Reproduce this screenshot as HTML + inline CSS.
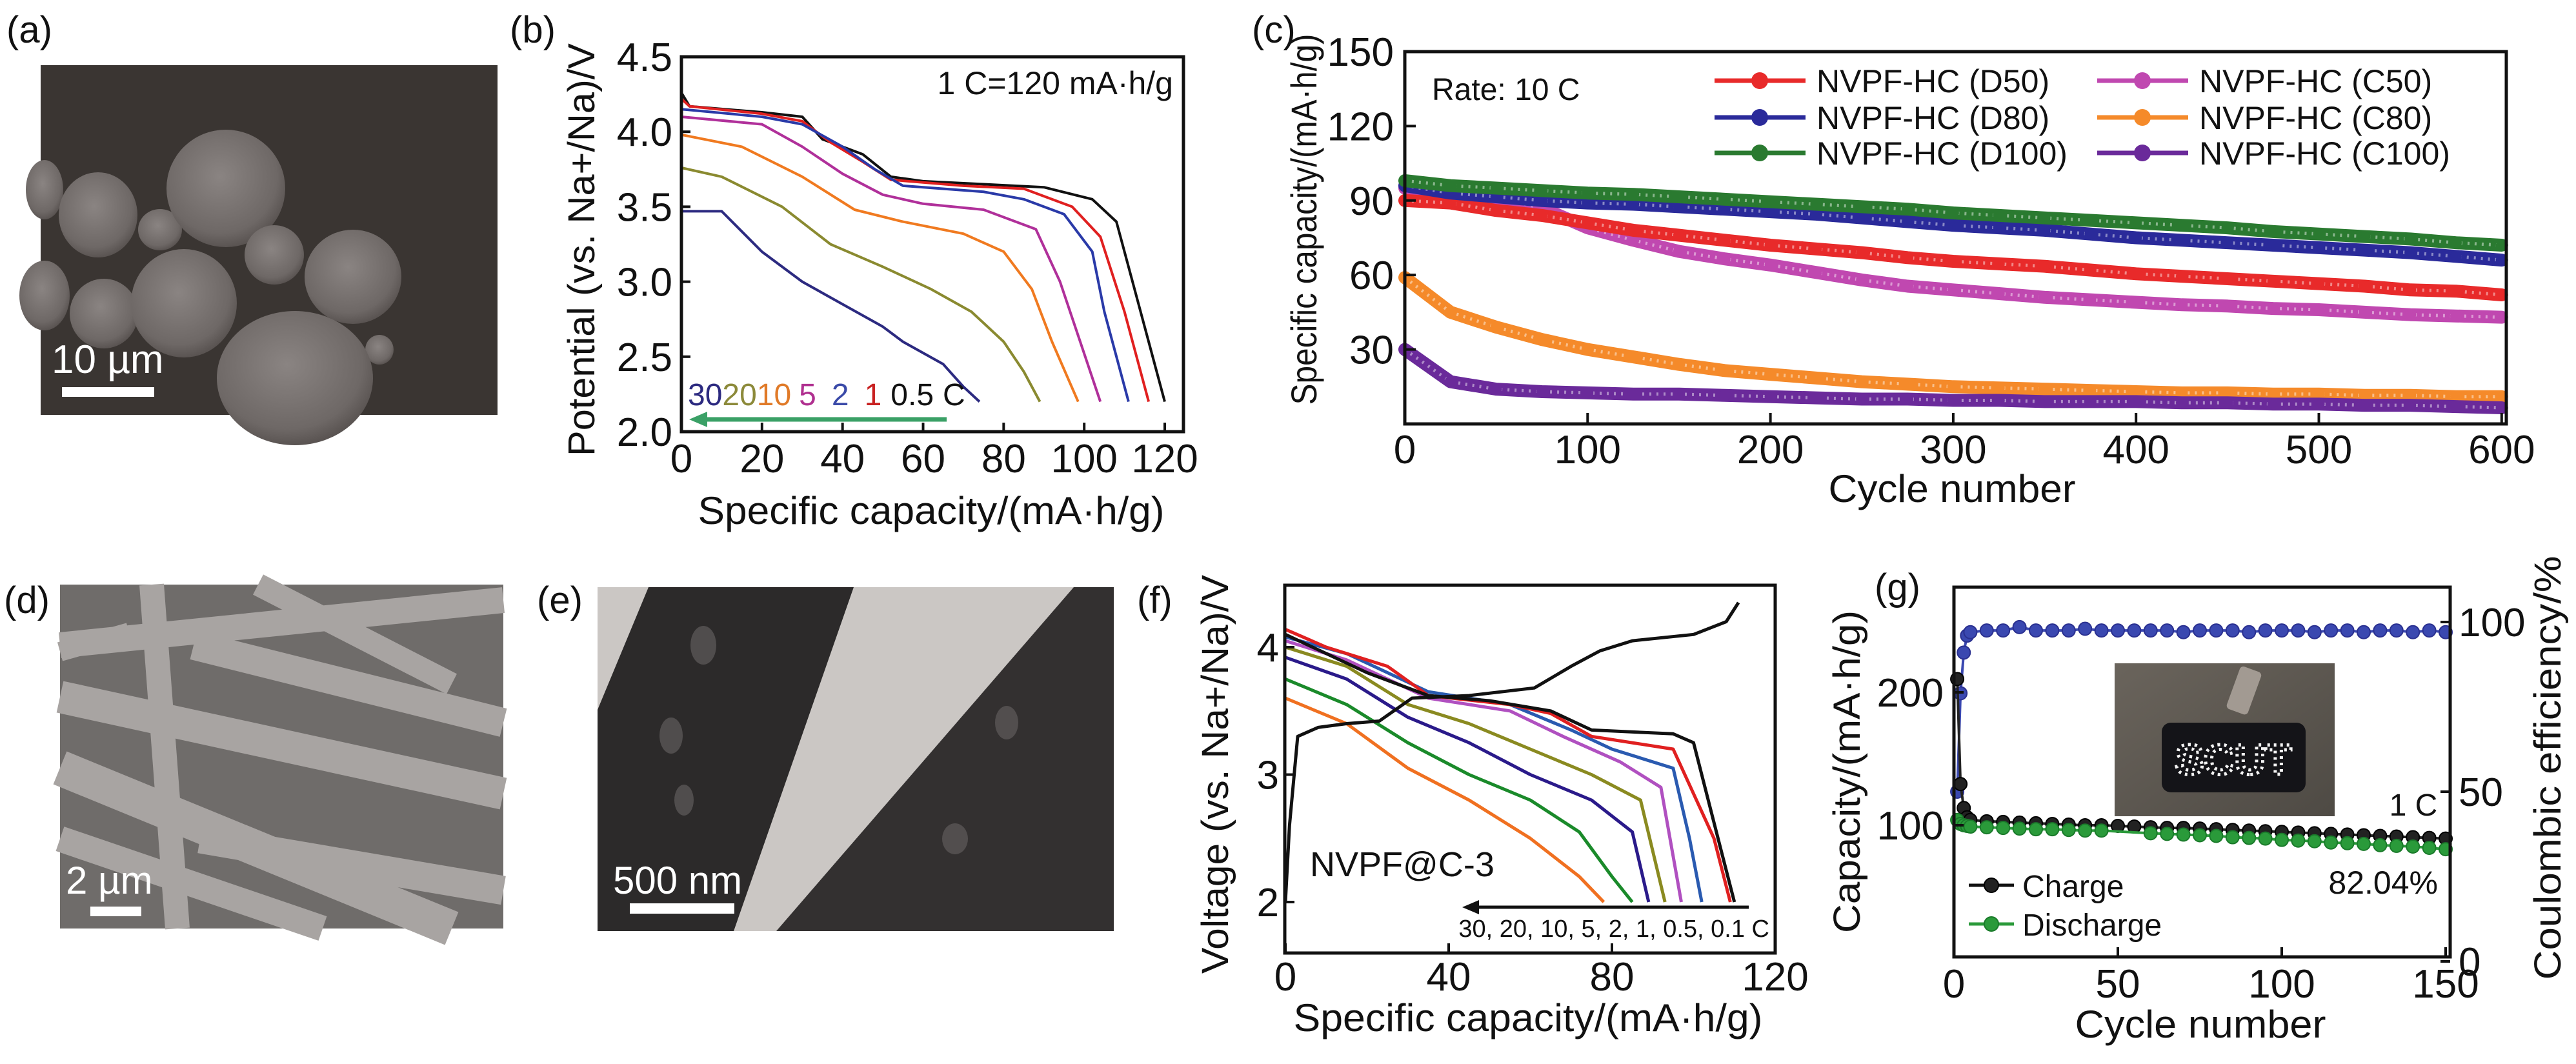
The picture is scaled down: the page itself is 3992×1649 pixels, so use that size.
<!DOCTYPE html>
<html><head><meta charset="utf-8"><style>
html,body{margin:0;padding:0;background:#fff}
svg{display:block}
text{font-family:"Liberation Sans",Arial,sans-serif;fill:#111}
</style></head><body>
<svg id="fig" width="3992" height="1649" viewBox="0 0 3992 1649" xmlns="http://www.w3.org/2000/svg">
<defs>
<radialGradient id="sph" cx="45%" cy="40%" r="60%"><stop offset="0" stop-color="#8a8482"/><stop offset="0.8" stop-color="#6e6866"/><stop offset="1" stop-color="#5a5452"/></radialGradient>
<linearGradient id="photo" x1="0" y1="0" x2="1" y2="1"><stop offset="0" stop-color="#6a645c"/><stop offset="1" stop-color="#4e4a44"/></linearGradient>
</defs>
<rect width="3992" height="1649" fill="#fff"/>

<!-- Panel a -->
<g>
<text x="10" y="66" font-size="58">(a)</text>
<rect x="63" y="101" width="708" height="542" fill="#3a3532"/>
<g fill="url(#sph)">
<ellipse cx="69" cy="294" rx="29" ry="46"/><ellipse cx="69" cy="458" rx="39" ry="54"/>
<ellipse cx="152" cy="333" rx="61" ry="66"/><ellipse cx="248" cy="356" rx="34" ry="32"/>
<ellipse cx="350" cy="292" rx="92" ry="91"/><ellipse cx="425" cy="395" rx="46" ry="46"/>
<ellipse cx="547" cy="429" rx="75" ry="73"/><ellipse cx="161" cy="486" rx="53" ry="54"/>
<ellipse cx="285" cy="470" rx="82" ry="84"/><ellipse cx="588" cy="542" rx="22" ry="23"/>
<ellipse cx="457" cy="586" rx="121" ry="104"/>
</g>
<text x="80" y="578" font-size="62" style="fill:#fff">10 µm</text>
<rect x="96" y="600" width="143" height="15" fill="#fff"/>
</g>

<!-- Panel d -->
<g>
<text x="6" y="950" font-size="58">(d)</text>
<rect x="93" y="906" width="687" height="533" fill="#6f6c6a"/>
<g stroke="#a8a4a2" stroke-linecap="butt" fill="none">
<line x1="93" y1="1000" x2="780" y2="930" stroke-width="40"/>
<line x1="93" y1="1080" x2="780" y2="1230" stroke-width="50"/>
<line x1="300" y1="1000" x2="780" y2="1120" stroke-width="45"/>
<line x1="93" y1="1190" x2="700" y2="1439" stroke-width="55"/>
<line x1="93" y1="1300" x2="500" y2="1439" stroke-width="40"/>
<line x1="310" y1="1300" x2="780" y2="1380" stroke-width="45"/>
<line x1="235" y1="906" x2="275" y2="1439" stroke-width="38"/>
<line x1="93" y1="1010" x2="200" y2="980" stroke-width="30"/>
<line x1="400" y1="906" x2="700" y2="1060" stroke-width="35"/>
</g>
<text x="102" y="1385" font-size="60" style="fill:#fff">2 µm</text>
<rect x="140" y="1405" width="79" height="15" fill="#fff"/>
</g>

<!-- Panel e -->
<g>
<text x="832" y="950" font-size="58">(e)</text>
<rect x="926" y="910" width="800" height="533" fill="#cbc7c4"/>
<polygon points="1005,910 1323,910 1137,1443 926,1443 926,1100" fill="#2c2a2a"/>
<polygon points="1664,910 1726,910 1726,1443 1203,1443" fill="#333030"/>
<g fill="#5a5656" opacity="0.8"><ellipse cx="1090" cy="1000" rx="20" ry="30"/><ellipse cx="1040" cy="1140" rx="18" ry="28"/><ellipse cx="1060" cy="1240" rx="15" ry="24"/><ellipse cx="1560" cy="1120" rx="18" ry="26"/><ellipse cx="1480" cy="1300" rx="20" ry="24"/></g>
<text x="950" y="1385" font-size="60" style="fill:#fff">500 nm</text>
<rect x="976" y="1400" width="162" height="16" fill="#fff"/>
</g>

<!-- Panel b static -->
<g>
<text x="790" y="66" font-size="58">(b)</text>
<g id="bplot"></g>
<rect x="1056" y="88" width="778" height="581" fill="none" stroke="#111" stroke-width="5"/>
<g id="baxes" font-size="62"></g>
<text x="1818" y="146" font-size="50" text-anchor="end">1 C=120 mA·h/g</text>
<text x="1066" y="628" font-size="48"><tspan style="fill:#2c2a80">30</tspan><tspan style="fill:#8c8a3a">20</tspan><tspan style="fill:#e07a28">10</tspan><tspan style="fill:#b03090" dx="12">5</tspan><tspan style="fill:#3a4aa8" dx="24">2</tspan><tspan style="fill:#c82020" dx="24">1</tspan><tspan dx="14">0.5</tspan><tspan dx="14">C</tspan></text>
<line x1="1467" y1="650" x2="1090" y2="650" stroke="#3aa066" stroke-width="7"/>
<polygon points="1068,650 1096,638 1096,662" fill="#3aa066"/>
<text transform="translate(921,387) rotate(-90)" font-size="58" text-anchor="middle" textLength="640" lengthAdjust="spacingAndGlyphs">Potential (vs. Na+/Na)/V</text>
<text x="1443" y="812" font-size="60" text-anchor="middle" textLength="723" lengthAdjust="spacingAndGlyphs">Specific capacity/(mA·h/g)</text>
</g>

<!-- Panel c static -->
<g>
<text x="1940" y="66" font-size="58">(c)</text>
<g id="cplot"></g>
<rect x="2177" y="80" width="1707" height="577" fill="none" stroke="#111" stroke-width="5"/>
<g id="caxes" font-size="62"></g>
<text x="2219" y="155" font-size="48">Rate: 10 C</text>
<g id="clegend" font-size="50"></g>
<text transform="translate(2040,340) rotate(-90)" font-size="56" text-anchor="middle" textLength="575" lengthAdjust="spacingAndGlyphs">Specific capacity/(mA·h/g)</text>
<text x="3025" y="778" font-size="60" text-anchor="middle" textLength="383" lengthAdjust="spacingAndGlyphs">Cycle number</text>
</g>

<!-- Panel f static -->
<g>
<text x="1762" y="950" font-size="58">(f)</text>
<g id="fplot"></g>
<rect x="1991" y="907" width="760" height="570" fill="none" stroke="#111" stroke-width="5"/>
<g id="faxes" font-size="62"></g>
<text x="2030" y="1358" font-size="54">NVPF@C-3</text>
<line x1="2710" y1="1406" x2="2290" y2="1406" stroke="#111" stroke-width="5"/>
<polygon points="2266,1406 2292,1395 2292,1417" fill="#111"/>
<text x="2742" y="1452" font-size="38" text-anchor="end">30, 20, 10, 5, 2, 1, 0.5, 0.1 C</text>
<text transform="translate(1903,1200) rotate(-90)" font-size="58" text-anchor="middle" textLength="618" lengthAdjust="spacingAndGlyphs">Voltage (vs. Na+/Na)/V</text>
<text x="2368" y="1598" font-size="60" text-anchor="middle" textLength="727" lengthAdjust="spacingAndGlyphs">Specific capacity/(mA·h/g)</text>
</g>

<!-- Panel g static -->
<g>
<text x="2905" y="930" font-size="58">(g)</text>
<g>
<rect x="3277" y="1028" width="341" height="237" fill="url(#photo)"/>
<rect x="3350" y="1120" width="223" height="108" rx="14" fill="#141418"/>
<rect x="3460" y="1035" width="35" height="70" rx="6" fill="#a29a92" transform="rotate(20 3477 1070)"/>
<text x="3461" y="1200" font-size="66" text-anchor="middle" font-weight="bold" style="fill:none;stroke:#f4f4f4;stroke-width:5;stroke-dasharray:4 6">SCUT</text>
</g>
<g id="gplot"></g>
<rect x="3028" y="910" width="769" height="573" fill="none" stroke="#111" stroke-width="5"/>
<g id="gaxes" font-size="62"></g>
<text x="3740" y="1264" font-size="48" text-anchor="middle">1 C</text>
<text x="3778" y="1385" font-size="50" text-anchor="end">82.04%</text>
<g>
<line x1="3051" y1="1372" x2="3121" y2="1372" stroke="#111" stroke-width="5"/><circle cx="3086" cy="1372" r="11" fill="#222" stroke="#000" stroke-width="2"/>
<text x="3134" y="1390" font-size="48">Charge</text>
<line x1="3051" y1="1432" x2="3121" y2="1432" stroke="#2a9a3a" stroke-width="5"/><circle cx="3086" cy="1432" r="11" fill="#2a9a3a" stroke="#1a7a2a" stroke-width="2"/>
<text x="3134" y="1450" font-size="48">Discharge</text>
</g>
<text transform="translate(2882,1196) rotate(-90)" font-size="58" text-anchor="middle" textLength="500" lengthAdjust="spacingAndGlyphs">Capacity/(mA·h/g)</text>
<text transform="translate(3968,1190) rotate(-90)" font-size="58" text-anchor="middle" textLength="657" lengthAdjust="spacingAndGlyphs">Coulombic efficiency/%</text>
<text x="3410" y="1608" font-size="60" text-anchor="middle" textLength="389" lengthAdjust="spacingAndGlyphs">Cycle number</text>
</g>
</svg>
<script>
// ---------- Panel b data ----------
const bSeriesNames = ['0.5C','1C','2C','5C','10C','20C','30C'];
const bColors = ['#111111','#e02020','#2a3aa8','#b0309a','#f07a20','#8a8a30','#2c2a80'];
const bCap = [
 [0,2,20,30,35,45,52,60,75,90,102,108,112,117,120],
 [0,2,20,30,37,45,52,70,85,97,104,110,116],
 [0,20,30,40,48,55,75,85,95,102,105,111],
 [0,20,30,40,50,60,75,88,94,99,104],
 [0,15,30,43,55,70,80,87,92,98.5],
 [0,10,25,37,50,62,72,80,85,89],
 [0,10,20,30,40,50,55,65,70,74]
];
const bVolt = [
 [4.26,4.17,4.13,4.1,3.95,3.85,3.7,3.67,3.65,3.63,3.55,3.4,3.0,2.5,2.2],
 [4.22,4.17,4.12,4.07,3.93,3.8,3.68,3.64,3.62,3.5,3.3,2.8,2.2],
 [4.15,4.1,4.05,3.9,3.75,3.64,3.6,3.55,3.45,3.2,2.8,2.2],
 [4.1,4.05,3.9,3.72,3.58,3.52,3.48,3.35,3.0,2.6,2.2],
 [3.98,3.9,3.7,3.48,3.4,3.32,3.2,2.95,2.6,2.2],
 [3.76,3.7,3.5,3.25,3.1,2.95,2.8,2.6,2.4,2.2],
 [3.47,3.47,3.2,3.0,2.85,2.7,2.6,2.45,2.3,2.2]
];
const bXTicks = [0,20,40,60,80,100,120];
const bYTicks = [2.0,2.5,3.0,3.5,4.0,4.5];

// ---------- Panel c data ----------
const cCycles = [0,25,50,75,100,125,150,175,200,225,250,275,300,325,350,375,400,425,450,475,500,525,550,575,600];
const cNames = ['NVPF-HC (D50)','NVPF-HC (D80)','NVPF-HC (D100)','NVPF-HC (C50)','NVPF-HC (C80)','NVPF-HC (C100)'];
const cColors = ['#e82a2a','#2a2a9a','#2a7a30','#c048b0','#f58a2a','#6a2a9a'];
const cD50 = [90,89,86,84,81,78,76,74,72,70.5,69,67,65.5,64.5,63.5,62,60.5,59.5,58.5,57.5,56.5,55.5,54,53.5,52];
const cD80 = [96,93,91.5,90,89,88.5,87.5,86.5,85.5,84.5,83,81.5,80,79,78,76.5,75,74,73,72,71,70,69,67.5,66];
const cD100 = [98,96,95,94,93,92.5,91.5,90.5,89.5,88.5,87.5,86.5,85,84,83,82,81,80,79,77.5,76.5,75.5,74.5,73,72];
const cC50 = [95,93.5,91,87,79,74,69.5,66.5,64,61,58,55.5,54,52.5,51,50,49,48,47.5,46.5,46,45,44,43.5,43];
const cC80 = [59,45,39,34,30,27,24,21.5,20,18.5,17,16,15,14.5,14,13.5,13,12.5,12.5,12,12,11.5,11.5,11,11];
const cC100 = [30,17,14,13,12.5,12,12,11.5,11,10.5,10,10,9.5,9.5,9,9,9,8.5,8.5,8,8,7.5,7.5,7,6.5];
const cXTicks = [0,100,200,300,400,500,600];
const cYTicks = [30,60,90,120,150];

// ---------- Panel f data ----------
const fColors = ['#111111','#e02020','#2a5ab0','#b050c0','#8a8a20','#2a1a8a','#1a8a2a','#f07020'];
const fDisCap = [
 [0,10,20,35,50,65,75,95,100,106,110],
 [0,10,25,35,55,65,75,95,105,109],
 [0,15,35,55,70,80,95,99,102],
 [0,15,35,55,68,82,92,97],
 [0,15,30,45,60,75,87,93],
 [0,15,30,45,60,75,85,89],
 [0,15,30,45,60,72,80,85],
 [0,15,30,45,60,72,78]
];
const fDisVolt = [
 [4.1,3.95,3.8,3.62,3.58,3.5,3.35,3.32,3.25,2.5,2.0],
 [4.14,4.0,3.85,3.62,3.55,3.48,3.3,3.2,2.5,2.0],
 [4.08,3.95,3.65,3.55,3.35,3.2,3.05,2.5,2.0],
 [4.05,3.9,3.6,3.5,3.3,3.1,2.9,2.0],
 [4.0,3.85,3.55,3.4,3.2,3.0,2.8,2.0],
 [3.92,3.75,3.45,3.25,3.0,2.8,2.55,2.0],
 [3.75,3.55,3.25,3.0,2.8,2.55,2.2,2.0],
 [3.6,3.4,3.05,2.8,2.5,2.2,2.0]
];
const fChgCap = [0,1,3,8,15,23,31,45,61,70,77,85,100,108,111];
const fChgVolt = [2.0,2.6,3.3,3.37,3.4,3.42,3.6,3.62,3.68,3.85,3.97,4.05,4.1,4.2,4.35];
const fXTicks = [0,40,80,120];
const fYTicks = [2,3,4];

// ---------- Panel g data ----------
const gCycles = [1,2,3,4,5,10,15,20,25,30,35,40,45,50,55,60,65,70,75,80,85,90,95,100,105,110,115,120,125,130,135,140,145,150];
const gCharge = [210,131,113,106,104,103,102.5,102,101.5,101,100.5,100,100,99.5,99,98.5,98,98,97.5,97,96.5,96,95.5,95,94.5,94,93.5,93,92.5,92,91.5,91,90.5,90];
const gDischarge = [104,101,100,99.5,99,98.5,98,97.5,97,97,96.5,96,96,null,null,94,93.5,93,92.5,92,91,90.5,90,89,88.5,88,87,86.5,86,85,84.5,84,83,82];
const gEff = [50,79,91,96,97,97.5,97.5,98.5,97.5,97.5,97.5,98,97.5,97.5,97.5,97.5,97.5,97,97.5,97.5,97.5,97,97.5,97.5,97.5,97,97.5,97.5,97,97.5,97.5,97,97.5,97];
const gXTicks = [0,50,100,150];
const gYTicksL = [100,200];
const gYTicksR = [0,50,100];

const NS = 'http://www.w3.org/2000/svg';
function mk(tag, parent, attrs){ const e=document.createElementNS(NS,tag); for(const k in attrs) e.setAttribute(k,attrs[k]); parent.appendChild(e); return e; }

const bx = v => 1056 + v*6.242, by = v => 669 - (v-2)*232.4;
const cx = v => 2177 + v*2.833, cy = v => 657 - v*3.847;
const fx = v => 1992 + v*6.325, fy = v => 1398 - (v-2)*197.5;
const gx = v => 3028 + v*5.08, gyL = v => 1485 - v*2.06, gyR = v => 1490 - v*5.26;

function pts(xs, ys, X, Y){ const a=[]; for(let i=0;i<xs.length;i++){ if(ys[i]!==null) a.push(X(xs[i]).toFixed(1)+','+Y(ys[i]).toFixed(1)); } return a.join(' '); }

// ----- b -----
const bplot = document.getElementById('bplot');
for(let s=0;s<bCap.length;s++){
  const l = mk('polyline', bplot, {points:pts(bCap[s],bVolt[s],bx,by), fill:'none', stroke:bColors[s], 'stroke-width':4, 'stroke-linejoin':'round'});
  
  
}
const baxes = document.getElementById('baxes');
bXTicks.forEach(v=>{
  const t = mk('line', baxes, {x1:bx(v),x2:bx(v),y1:669,y2:655,stroke:'#111','stroke-width':4});
  
  
  const lb = mk('text', baxes, {x:bx(v), y:732, 'text-anchor':'middle'}); lb.textContent=v;
  
  
});
bYTicks.forEach(v=>{
  const t = mk('line', baxes, {x1:1056,x2:1070,y1:by(v),y2:by(v),stroke:'#111','stroke-width':4});
  
  
  const lb = mk('text', baxes, {x:1042, y:by(v)+22, 'text-anchor':'end'}); lb.textContent=v.toFixed(1);
  
  
});

// ----- c -----
const cplot = document.getElementById('cplot');
const cSeries = [cD50,cD80,cD100,cC50,cC80,cC100];
const cOrder = [4,5,3,0,1,2];
cOrder.forEach(s=>{
  const g = mk('g', cplot, {});
  
  
  const p = pts(cCycles,cSeries[s],cx,cy);
  mk('polyline', g, {points:p, fill:'none', stroke:cColors[s], 'stroke-width':20, 'stroke-linejoin':'round', 'stroke-linecap':'round'});
  mk('polyline', g, {points:p, fill:'none', stroke:'#ffffff', 'stroke-opacity':0.45, 'stroke-width':5, 'stroke-dasharray':'3 8'});
  for(let i=0;i<cCycles.length;i++){
    const m = mk('circle', g, {cx:cx(cCycles[i]), cy:cy(cSeries[s][i]), r:9, fill:cColors[s]});
    
    
  }
});
const caxes = document.getElementById('caxes');
cXTicks.forEach(v=>{
  const t = mk('line', caxes, {x1:cx(v),x2:cx(v),y1:657,y2:640,stroke:'#111','stroke-width':4});
  
  
  const lb = mk('text', caxes, {x:cx(v), y:718, 'text-anchor':'middle'}); lb.textContent=v;
  
  
});
cYTicks.forEach(v=>{
  const t = mk('line', caxes, {x1:2177,x2:2194,y1:cy(v),y2:cy(v),stroke:'#111','stroke-width':4});
  
  
  const lb = mk('text', caxes, {x:2160, y:cy(v)+22, 'text-anchor':'end'}); lb.textContent=v;
  
  
});
const clegend = document.getElementById('clegend');
for(let s=0;s<6;s++){
  const col = s<3?0:1, row = s%3;
  const x0 = col? 3250:2657, y0 = [125,182,237][row];
  const e = mk('g', clegend, {});
  
  
  mk('line', e, {x1:x0,x2:x0+141,y1:y0,y2:y0,stroke:cColors[s],'stroke-width':7});
  mk('circle', e, {cx:x0+70,cy:y0,r:13,fill:cColors[s]});
  const tx = mk('text', e, {x:x0+158, y:y0+18}); tx.textContent=cNames[s];
}

// ----- f -----
const fplot = document.getElementById('fplot');
for(let s=fDisCap.length-1;s>=0;s--){
  const l = mk('polyline', fplot, {points:pts(fDisCap[s],fDisVolt[s],fx,fy), fill:'none', stroke:fColors[s], 'stroke-width':5, 'stroke-linejoin':'round'});
  
  
}
const fc = mk('polyline', fplot, {points:pts(fChgCap,fChgVolt,fx,fy), fill:'none', stroke:'#111', 'stroke-width':5, 'stroke-linejoin':'round'});


const faxes = document.getElementById('faxes');
fXTicks.forEach(v=>{
  const t = mk('line', faxes, {x1:fx(v),x2:fx(v),y1:1477,y2:1462,stroke:'#111','stroke-width':4});
  
  
  const lb = mk('text', faxes, {x:fx(v), y:1535, 'text-anchor':'middle'}); lb.textContent=v;
  
  
});
fYTicks.forEach(v=>{
  const t = mk('line', faxes, {x1:1991,x2:2006,y1:fy(v),y2:fy(v),stroke:'#111','stroke-width':4});
  
  
  const lb = mk('text', faxes, {x:1982, y:fy(v)+22, 'text-anchor':'end'}); lb.textContent=v;
  
  
});

// ----- g -----
const gplot = document.getElementById('gplot');
function gSeries(vals, Y, color, stroke, name){
  const g = mk('g', gplot, {});
  
  
  mk('polyline', g, {points:pts(gCycles,vals,gx,Y), fill:'none', stroke:color, 'stroke-width':4});
  for(let i=0;i<gCycles.length;i++){
    if(vals[i]===null) continue;
    const m = mk('circle', g, {cx:gx(gCycles[i]), cy:Y(vals[i]), r:10, fill:color, stroke:stroke, 'stroke-width':2});
    
    
  }
}
gSeries(gEff, gyR, '#3a48b0', '#2a3090', 'efficiency-series-g');
gSeries(gCharge, gyL, '#222222', '#000000', 'charge-series-g');
gSeries(gDischarge, gyL, '#2a9a3a', '#1a7a2a', 'discharge-series-g');
const gaxes = document.getElementById('gaxes');
gXTicks.forEach(v=>{
  const t = mk('line', gaxes, {x1:gx(v),x2:gx(v),y1:1483,y2:1468,stroke:'#111','stroke-width':4});
  
  
  const lb = mk('text', gaxes, {x:gx(v), y:1546, 'text-anchor':'middle'}); lb.textContent=v;
  
  
});
gYTicksL.forEach(v=>{
  const t = mk('line', gaxes, {x1:3028,x2:3043,y1:gyL(v),y2:gyL(v),stroke:'#111','stroke-width':4});
  
  
  const lb = mk('text', gaxes, {x:3012, y:gyL(v)+22, 'text-anchor':'end'}); lb.textContent=v;
  
  
});
gYTicksR.forEach(v=>{
  const t = mk('line', gaxes, {x1:3782,x2:3797,y1:gyR(v),y2:gyR(v),stroke:'#111','stroke-width':4});
  
  
  const lb = mk('text', gaxes, {x:3810, y:gyR(v)+22, 'text-anchor':'start'}); lb.textContent=v;
  
  
});
</script>
</body></html>
